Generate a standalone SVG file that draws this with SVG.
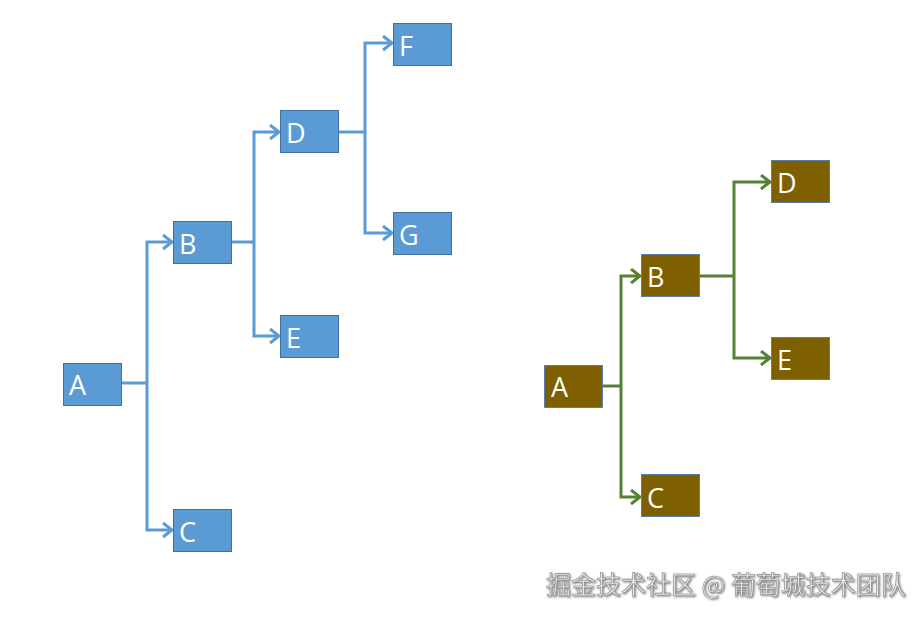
<svg xmlns="http://www.w3.org/2000/svg" width="923" height="618" viewBox="0 0 923 618">
<defs>
<style>
.nb{fill:#5B9BD5;stroke:#41719C;stroke-width:1}
.nr{fill:#7F6000;stroke:#5B7FA6;stroke-width:1}
.t{fill:#fff;font-family:"Open Sans","Liberation Sans",sans-serif;font-size:27px}
.cb{fill:none;stroke:#5B9BD5;stroke-width:3}
.cg{fill:none;stroke:#548235;stroke-width:3}
.wm{font-family:"Noto Sans CJK SC","Noto Sans",sans-serif;font-size:25px;fill:#e6e6e6;stroke:#8a8a8a;stroke-width:0.6}
</style>
<marker id="ab" markerUnits="userSpaceOnUse" markerWidth="16" markerHeight="18" refX="11" refY="8" orient="auto">
<path d="M2,1 L11,8 L2,15" fill="none" stroke="#5B9BD5" stroke-width="3"/>
</marker>
<marker id="ag" markerUnits="userSpaceOnUse" markerWidth="16" markerHeight="18" refX="11" refY="8" orient="auto">
<path d="M2,1 L11,8 L2,15" fill="none" stroke="#548235" stroke-width="3"/>
</marker>
<filter id="sh" x="-5%" y="-30%" width="110%" height="160%">
<feDropShadow dx="1" dy="1" stdDeviation="0.8" flood-color="#555" flood-opacity="0.8"/>
</filter>
</defs>
<g id="connectors">
<path class="cb" d="M122,383 H147"/>
<path class="cb" d="M147,383 V242 H172" marker-end="url(#ab)"/>
<path class="cb" d="M147,383 V530 H172" marker-end="url(#ab)"/>
<path class="cb" d="M232,242 H254"/>
<path class="cb" d="M254,242 V132 H279" marker-end="url(#ab)"/>
<path class="cb" d="M254,242 V336 H279" marker-end="url(#ab)"/>
<path class="cb" d="M338,132 H365"/>
<path class="cb" d="M365,132 V43 H392" marker-end="url(#ab)"/>
<path class="cb" d="M365,132 V233 H392" marker-end="url(#ab)"/>
<path class="cg" d="M603,386 H621"/>
<path class="cg" d="M621,386 V276 H640" marker-end="url(#ag)"/>
<path class="cg" d="M621,386 V497 H640" marker-end="url(#ag)"/>
<path class="cg" d="M699,276 H734"/>
<path class="cg" d="M734,276 V182 H770" marker-end="url(#ag)"/>
<path class="cg" d="M734,276 V358 H770" marker-end="url(#ag)"/>
</g>
<g id="L-A"><rect class="nb" x="63.5" y="363.5" width="58" height="42"/><text class="t" x="69" y="395">A</text></g>
<g id="L-B"><rect class="nb" x="173.5" y="221.5" width="58" height="42"/><text class="t" x="179" y="254">B</text></g>
<g id="L-C"><rect class="nb" x="173.5" y="509.5" width="58" height="42"/><text class="t" x="179" y="542">C</text></g>
<g id="L-D"><rect class="nb" x="280.5" y="110.5" width="58" height="42"/><text class="t" x="286" y="143">D</text></g>
<g id="L-E"><rect class="nb" x="280.5" y="315.5" width="58" height="42"/><text class="t" x="286" y="348">E</text></g>
<g id="L-F"><rect class="nb" x="393.5" y="23.5" width="58" height="42"/><text class="t" x="399" y="56">F</text></g>
<g id="L-G"><rect class="nb" x="393.5" y="212.5" width="58" height="42"/><text class="t" x="399" y="245">G</text></g>
<g id="R-A"><rect class="nr" x="544.5" y="365.5" width="58" height="42"/><text class="t" x="551" y="397">A</text></g>
<g id="R-B"><rect class="nr" x="641.5" y="254.5" width="58" height="42"/><text class="t" x="647" y="287">B</text></g>
<g id="R-C"><rect class="nr" x="641.5" y="474.5" width="58" height="42"/><text class="t" x="647" y="508">C</text></g>
<g id="R-D"><rect class="nr" x="771.5" y="160.5" width="58" height="42"/><text class="t" x="777" y="193">D</text></g>
<g id="R-E"><rect class="nr" x="771.5" y="337.5" width="58" height="42"/><text class="t" x="777" y="370">E</text></g>
<text class="wm" x="546" y="594" filter="url(#sh)">掘金技术社区 @ 葡萄城技术团队</text>
</svg>
